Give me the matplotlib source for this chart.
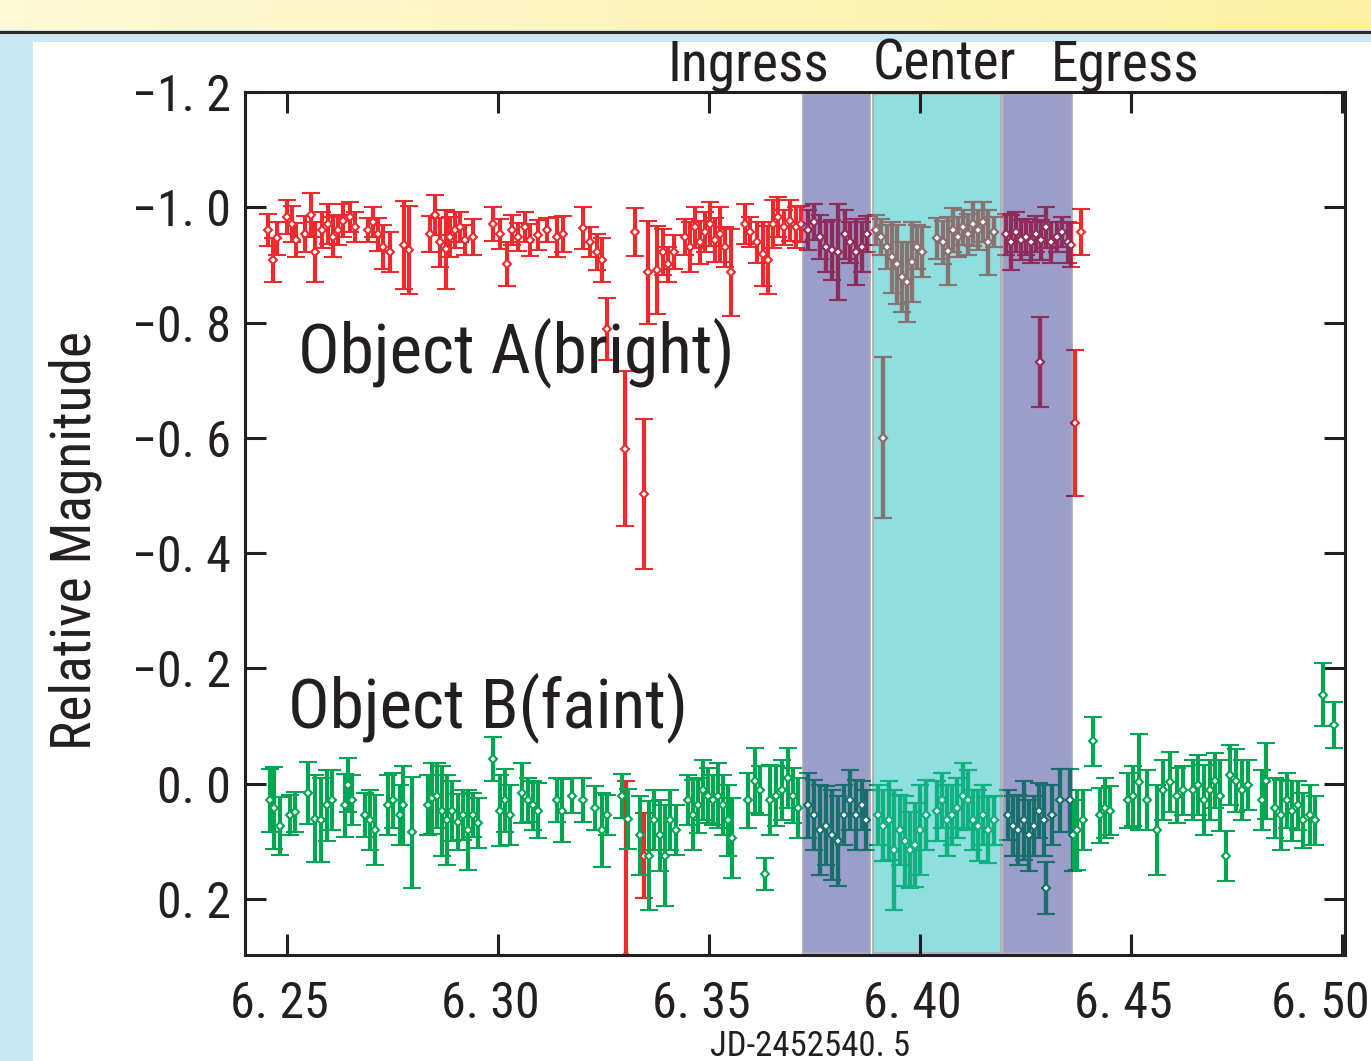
import numpy as np
import matplotlib
matplotlib.use("Agg")
import matplotlib.pyplot as plt
from matplotlib import font_manager as fm
from matplotlib.patches import Rectangle
from matplotlib.lines import Line2D
from matplotlib.transforms import ScaledTranslation

# ---------------- data ----------------
red_x = [6.2455, 6.2467, 6.2476, 6.2500, 6.2512, 6.2521, 6.2543, 6.2557, 6.2566, 6.2583,
         6.2597, 6.2609, 6.2621, 6.2633, 6.2649, 6.2661, 6.2692, 6.2704, 6.2716, 6.2728,
         6.2744, 6.2777, 6.2789, 6.2839, 6.2851, 6.2863, 6.2877, 6.2886, 6.2898, 6.2910,
         6.2922, 6.2941, 6.2988, 6.3005, 6.3021, 6.3033, 6.3047, 6.3064, 6.3076, 6.3095,
         6.3116, 6.3140, 6.3154, 6.3202, 6.3218, 6.3235, 6.3247, 6.3258, 6.3301, 6.3325,
         6.3346, 6.3356, 6.3377, 6.3391, 6.3403, 6.3417, 6.3443, 6.3455, 6.3467, 6.3479,
         6.3491, 6.3503, 6.3514, 6.3526, 6.3538, 6.3552, 6.3585, 6.3597, 6.3614, 6.3628,
         6.3640, 6.3652, 6.3664, 6.3678, 6.3692, 6.3706, 6.3718, 6.3735, 6.3749, 6.3763,
         6.3777, 6.3792, 6.3806, 6.3822, 6.3834, 6.3849, 6.3863, 6.3875, 6.3896, 6.3908,
         6.3913, 6.3922, 6.3934, 6.3946, 6.3958, 6.3969, 6.3981, 6.3993, 6.4005, 6.4041,
         6.4055, 6.4067, 6.4078, 6.4090, 6.4102, 6.4114, 6.4126, 6.4138, 6.4150, 6.4161,
         6.4176, 6.4204, 6.4216, 6.4228, 6.4240, 6.4251, 6.4263, 6.4275, 6.4285, 6.4287,
         6.4299, 6.4311, 6.4325, 6.4337, 6.4351, 6.4358, 6.4368, 6.4382, 6.3303, 6.3346]
red_y = [-0.960, -0.908, -0.946, -0.983, -0.971, -0.943, -0.953, -0.986, -0.922, -0.960,
         -0.971, -0.948, -0.960, -0.977, -0.983, -0.965, -0.960, -0.974, -0.953, -0.931,
         -0.922, -0.934, -0.926, -0.953, -0.986, -0.939, -0.927, -0.948, -0.960, -0.965,
         -0.943, -0.948, -0.971, -0.953, -0.901, -0.960, -0.948, -0.965, -0.943, -0.952,
         -0.960, -0.948, -0.953, -0.964, -0.939, -0.922, -0.908, -0.789, -0.581, -0.957,
         -0.502, -0.887, -0.891, -0.922, -0.901, -0.922, -0.948, -0.931, -0.965, -0.939,
         -0.957, -0.971, -0.943, -0.953, -0.931, -0.887, -0.971, -0.957, -0.939, -0.919,
         -0.908, -0.971, -0.983, -0.965, -0.977, -0.965, -0.971, -0.960, -0.974, -0.948,
         -0.931, -0.926, -0.922, -0.953, -0.939, -0.922, -0.931, -0.953, -0.960, -0.948,
         -0.600, -0.931, -0.913, -0.901, -0.879, -0.870, -0.905, -0.931, -0.922, -0.946,
         -0.939, -0.924, -0.960, -0.948, -0.965, -0.953, -0.971, -0.960, -0.974, -0.939,
         -0.957, -0.953, -0.939, -0.957, -0.943, -0.948, -0.939, -0.953, -0.732, -0.943,
         -0.965, -0.939, -0.948, -0.957, -0.939, -0.934, -0.626, -0.957, 0.300, 0.125]
red_err = [0.028, 0.038, 0.029, 0.029, 0.031, 0.029, 0.031, 0.038, 0.052, 0.031,
           0.035, 0.035, 0.026, 0.029, 0.026, 0.026, 0.021, 0.026, 0.029, 0.038,
           0.035, 0.076, 0.076, 0.031, 0.035, 0.043, 0.069, 0.035, 0.031, 0.026,
           0.026, 0.031, 0.029, 0.026, 0.038, 0.026, 0.024, 0.026, 0.028, 0.026,
           0.021, 0.035, 0.031, 0.036, 0.026, 0.031, 0.038, 0.054, 0.135, 0.042,
           0.130, 0.090, 0.077, 0.040, 0.030, 0.030, 0.031, 0.043, 0.035, 0.038,
           0.035, 0.038, 0.038, 0.048, 0.035, 0.075, 0.035, 0.026, 0.035, 0.055,
           0.059, 0.042, 0.035, 0.031, 0.035, 0.035, 0.031, 0.035, 0.031, 0.038,
           0.043, 0.052, 0.083, 0.043, 0.035, 0.057, 0.043, 0.031, 0.026, 0.031,
           0.140, 0.038, 0.061, 0.069, 0.061, 0.069, 0.069, 0.038, 0.043, 0.035,
           0.038, 0.059, 0.038, 0.035, 0.031, 0.035, 0.038, 0.035, 0.035, 0.057,
           0.026, 0.035, 0.048, 0.035, 0.035, 0.031, 0.035, 0.031, 0.078, 0.035,
           0.035, 0.035, 0.026, 0.026, 0.035, 0.038, 0.127, 0.040, 0.305, 0.073]

green_x = [6.2460, 6.2469, 6.2483, 6.2507, 6.2519, 6.2550, 6.2566, 6.2581, 6.2595, 6.2607,
           6.2637, 6.2645, 6.2654, 6.2685, 6.2697, 6.2709, 6.2739, 6.2751, 6.2768, 6.2775,
           6.2796, 6.2834, 6.2844, 6.2856, 6.2867, 6.2879, 6.2891, 6.2905, 6.2917, 6.2928,
           6.2941, 6.2953, 6.2988, 6.3005, 6.3017, 6.3028, 6.3057, 6.3071, 6.3083, 6.3095,
           6.3140, 6.3152, 6.3175, 6.3202, 6.3230, 6.3247, 6.3258, 6.3294, 6.3308, 6.3337,
           6.3358, 6.3370, 6.3384, 6.3396, 6.3408, 6.3422, 6.3450, 6.3462, 6.3474, 6.3486,
           6.3498, 6.3510, 6.3521, 6.3533, 6.3545, 6.3555, 6.3593, 6.3609, 6.3621, 6.3633,
           6.3645, 6.3659, 6.3673, 6.3687, 6.3699, 6.3711,
           6.3735, 6.3749, 6.3763, 6.3777, 6.3792, 6.3806, 6.3820, 6.3834, 6.3849, 6.3863,
           6.3872,
           6.3901, 6.3913, 6.3927, 6.3939, 6.3953, 6.3965, 6.3976, 6.3988, 6.4000, 6.4014,
           6.4041, 6.4052, 6.4064, 6.4076, 6.4088, 6.4102, 6.4114, 6.4126, 6.4138, 6.4150,
           6.4161, 6.4176,
           6.4209, 6.4221, 6.4232, 6.4247, 6.4259, 6.4270, 6.4282, 6.4294, 6.4299, 6.4313,
           6.4332, 6.4356, 6.4363,
           6.4372, 6.4386, 6.4410, 6.4427, 6.4439, 6.4450, 6.4493, 6.4505, 6.4519, 6.4538,
           6.4562, 6.4576, 6.4593, 6.4609, 6.4623, 6.4647, 6.4659, 6.4673, 6.4687, 6.4699,
           6.4711, 6.4725, 6.4735, 6.4749, 6.4763, 6.4778, 6.4811, 6.4820, 6.4842, 6.4856,
           6.4870, 6.4882, 6.4896, 6.4908, 6.4925, 6.4936, 6.4955, 6.4981]
green_y = [0.029, 0.042, 0.074, 0.055, 0.050, 0.017, 0.061, 0.064, 0.038, 0.029,
           0.038, 0.003, 0.029, 0.055, 0.064, 0.081, 0.038, 0.029, 0.055, 0.038,
           0.085, 0.038, 0.026, 0.021, 0.047, 0.064, 0.047, 0.067, 0.055, 0.081,
           0.055, 0.069, -0.042, 0.047, 0.029, 0.055, 0.016, 0.029, 0.038, 0.047,
           0.029, 0.047, 0.021, 0.029, 0.043, 0.081, 0.055, 0.021, 0.061, 0.090,
           0.125, 0.064, 0.090, 0.125, 0.064, 0.081, 0.029, 0.055, 0.038, 0.012,
           0.021, 0.029, 0.021, 0.038, 0.064, 0.095, 0.029, -0.005, 0.012, 0.157,
           0.029, 0.021, 0.012, -0.009, 0.021, 0.043,
           0.038, 0.055, 0.081, 0.073, 0.090, 0.099, 0.055, 0.029, 0.055, 0.038,
           0.064,
           0.055, 0.073, 0.064, 0.116, 0.081, 0.099, 0.116, 0.107, 0.081, 0.055,
           0.047, 0.029, 0.064, 0.055, 0.043, 0.021, 0.029, 0.064, 0.073, 0.055,
           0.081, 0.064,
           0.055, 0.073, 0.081, 0.064, 0.090, 0.073, 0.047, 0.064, 0.182, 0.055,
           0.029, 0.029, 0.090,
           0.081, 0.064, -0.073, 0.055, 0.043, 0.047, 0.029, 0.021, -0.003, 0.029,
           0.081, 0.012, -0.002, 0.021, 0.012, 0.012, 0.003, 0.029, 0.012, -0.005,
           0.021, 0.126, -0.014, -0.005, 0.012, 0.003, 0.029, -0.005, 0.043, 0.055,
           0.029, 0.047, 0.038, 0.064, 0.055, 0.064, -0.154, -0.102]
green_err = [0.055, 0.071, 0.050, 0.035, 0.035, 0.054, 0.076, 0.073, 0.061, 0.052,
             0.055, 0.047, 0.043, 0.038, 0.052, 0.061, 0.052, 0.048, 0.052, 0.069,
             0.097, 0.052, 0.061, 0.057, 0.078, 0.078, 0.052, 0.048, 0.043, 0.069,
             0.038, 0.043, 0.038, 0.061, 0.055, 0.052, 0.052, 0.038, 0.043, 0.048,
             0.038, 0.055, 0.031, 0.038, 0.038, 0.064, 0.035, 0.038, 0.052, 0.069,
             0.095, 0.052, 0.061, 0.087, 0.052, 0.043, 0.043, 0.061, 0.048, 0.052,
             0.048, 0.043, 0.057, 0.052, 0.061, 0.069, 0.048, 0.057, 0.043, 0.028,
             0.061, 0.052, 0.052, 0.052, 0.048, 0.052,
             0.057, 0.061, 0.078, 0.069, 0.078, 0.078, 0.052, 0.052, 0.061, 0.043,
             0.052,
             0.052, 0.061, 0.069, 0.104, 0.061, 0.078, 0.066, 0.073, 0.078, 0.061,
             0.052, 0.048, 0.061, 0.052, 0.052, 0.057, 0.052, 0.052, 0.061, 0.052,
             0.057, 0.043,
             0.043, 0.052, 0.061, 0.069, 0.061, 0.052, 0.048, 0.061, 0.045, 0.052,
             0.055, 0.055, 0.061,
             0.069, 0.052, 0.043, 0.048, 0.052, 0.043, 0.048, 0.052, 0.083, 0.052,
             0.078, 0.052, 0.052, 0.048, 0.043, 0.052, 0.052, 0.061, 0.052, 0.048,
             0.061, 0.043, 0.052, 0.055, 0.052, 0.043, 0.052, 0.066, 0.052, 0.061,
             0.048, 0.052, 0.043, 0.048, 0.052, 0.043, 0.055, 0.040]

phase_names = ["Ingress", "Center", "Egress"]
phase_start = [6.3723, 6.3889, 6.4197]
phase_end = [6.3882, 6.4192, 6.4360]

xtick_vals = [6.25, 6.30, 6.35, 6.40, 6.45, 6.50]
xtick_labels = ["6. 25", "6. 30", "6. 35", "6. 40", "6. 45", "6. 50"]
ytick_vals = [-1.2, -1.0, -0.8, -0.6, -0.4, -0.2, 0.0, 0.2]
ytick_labels = ["\u22121. 2", "\u22121. 0", "\u22120. 8", "\u22120. 6", "\u22120. 4",
                "\u22120. 2", "0. 0", "0. 2"]

# ---------------- fonts ----------------
names = {f.name for f in fm.fontManager.ttflist}
FONT, SC = "DejaVu Sans", 0.74
for cand in ["Liberation Sans Narrow", "DejaVu Sans Condensed", "Roboto Condensed",
             "Open Sans Condensed"]:
    if cand in names:
        FONT, SC = cand, 1.0
        break
plt.rcParams["font.family"] = [FONT, "DejaVu Sans"]

# ---------------- figure ----------------
W, H = 1371, 1061
fig = plt.figure(figsize=(W / 100, H / 100), dpi=100)
fig.patches.append(Rectangle((0, 0), 1, 1, transform=fig.transFigure,
                             facecolor="#c9e8f4", edgecolor="none", zorder=-10))
fig.patches.append(Rectangle((33 / W, 0), 1, 1 - 42 / H, transform=fig.transFigure,
                             facecolor="white", edgecolor="none", zorder=-9))
bg = fig.add_axes([0, 1 - 30 / H, 1, 30 / H], zorder=-5)
t = np.linspace(0, 1, 256)
c0 = np.array([254, 249, 214]) / 255
c1 = np.array([252, 240, 160]) / 255
grad = c0[None, :] * (1 - t[:, None]) + c1[None, :] * t[:, None]
bg.imshow(grad[None, :, :], aspect="auto", extent=[0, 1, 0, 1])
bg.axis("off")
fig.add_artist(Line2D([0, 1], [1 - 31.5 / H] * 2, transform=fig.transFigure,
                      color="#2b2b2b", lw=2.2))

ax = fig.add_axes([245 / W, 1 - 955 / H, 1100 / W, 863 / H])
ax.set_xlim(6.2400, 6.5007)
ax.set_ylim(0.2976, -1.2)

span_colors = ["#9b9dcb", "#8fdfe0", "#9b9dcb"]
clip_rects = []
for x0, x1, c in zip(phase_start, phase_end, span_colors):
    ax.add_patch(Rectangle((x0, -1.197), x1 - x0, 1.491, facecolor=c,
                           edgecolor="#a9a9b3", lw=1.2, zorder=1))
    clip_rects.append(Rectangle((x0, -1.197), x1 - x0, 1.491, transform=ax.transData))

RED, GREEN = "#ee2a2f", "#00a651"
red_in = ["#8c2d5e", "#857474", "#8c2d5e"]
green_in = ["#1a6e6e", "#12b183", "#1a6e6e"]


def draw(x, y, e, color, clip=None):
    cont = ax.errorbar(x, y, yerr=e, fmt="D", ms=4.2, mfc="white", mec=color, mew=1.5,
                       ecolor=color, elinewidth=3.0, capsize=6.5, capthick=2.6, zorder=3)
    if clip is not None:
        for a in [cont.lines[0], *cont.lines[1], *cont.lines[2]]:
            a.set_clip_path(clip)


draw(red_x, red_y, red_err, RED)
draw(green_x, green_y, green_err, GREEN)
for rect, rc, gc in zip(clip_rects, red_in, green_in):
    draw(red_x, red_y, red_err, rc, rect)
    draw(green_x, green_y, green_err, gc, rect)

# axes styling
for s in ax.spines.values():
    s.set_linewidth(2.2)
    s.set_color("#231f20")
    s.set_zorder(5)
ax.set_xticks(xtick_vals)
ax.set_xticklabels(xtick_labels)
ax.set_yticks(ytick_vals)
ax.set_yticklabels(ytick_labels)
ax.tick_params(direction="in", length=15, width=2.2, color="#231f20", top=True, right=True,
               labelsize=36 * SC, labelcolor="#231f20")
ax.tick_params(axis="x", pad=18)
ax.tick_params(axis="y", pad=10)
xlabs = ax.get_xticklabels()
for lab in xlabs:
    lab.set_transform(lab.get_transform() + ScaledTranslation(-0.08, 0, fig.dpi_scale_trans))
# keep the last label inside the figure
xlabs[-1].set_horizontalalignment("right")
xlabs[-1].set_transform(xlabs[-1].get_transform() + ScaledTranslation(0.36, 0, fig.dpi_scale_trans))

ax.set_xlabel("JD-2452540. 5", fontsize=25 * SC, color="#231f20")
ax.xaxis.set_label_coords((810 - 245) / 1100, (955 - 1030) / 863)
ax.set_ylabel("Relative Magnitude", fontsize=40 * SC, color="#231f20")
ax.yaxis.set_label_coords((102 - 245) / 1100, (955 - 540) / 863)

for name, xc in zip(phase_names, [748, 944, 1125]):
    fig.text(xc / W, 1 - 80 / H, name, ha="center", va="baseline",
             fontsize=40 * SC, color="#231f20")
fig.text(298 / W, 1 - 372 / H, "Object A(bright)", ha="left", va="baseline",
         fontsize=50 * SC, color="#231f20", zorder=10)
fig.text(288 / W, 1 - 727 / H, "Object B(faint)", ha="left", va="baseline",
         fontsize=50 * SC, color="#231f20", zorder=10)

fig.savefig("out.png", dpi=100)
